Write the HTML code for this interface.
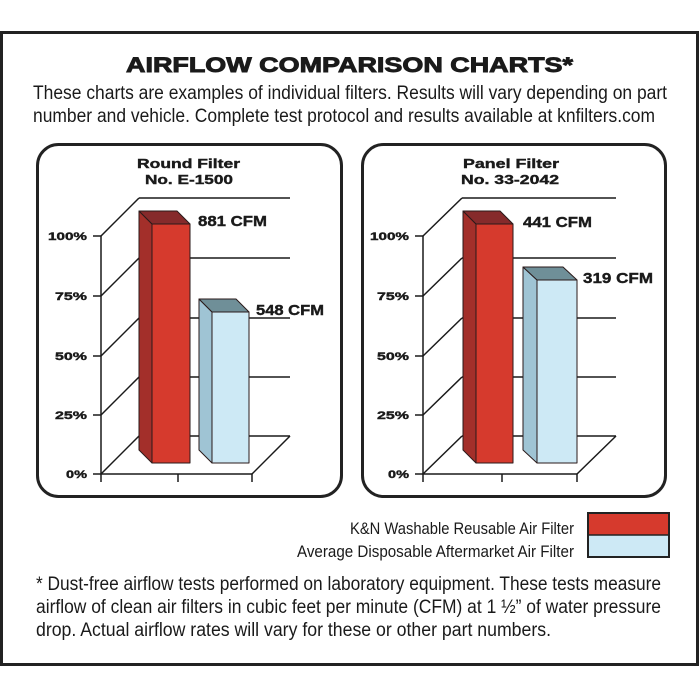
<!DOCTYPE html>
<html>
<head>
<meta charset="utf-8">
<style>
html,body{margin:0;padding:0;background:#fff;}
svg{display:block;}
text{font-family:"Liberation Sans",Arial,sans-serif;fill:#1a1a1a;}
.b{font-weight:bold;}
.h{font-weight:bold;stroke:#1a1a1a;stroke-width:0.9;}
.m{font-weight:bold;stroke:#1a1a1a;stroke-width:0.4;}
</style>
</head>
<body>
<svg width="700" height="700" viewBox="0 0 700 700" xmlns="http://www.w3.org/2000/svg">
<rect x="0" y="0" width="700" height="700" fill="#fff"/>
<!-- outer border -->
<rect x="1.5" y="32.5" width="696" height="632" fill="#fff" stroke="#222" stroke-width="3"/>

<!-- header -->
<text class="h" x="126" y="72" font-size="21" textLength="447" lengthAdjust="spacingAndGlyphs">AIRFLOW COMPARISON CHARTS*</text>
<text x="33" y="99" font-size="19" textLength="634" lengthAdjust="spacingAndGlyphs">These charts are examples of individual filters. Results will vary depending on part</text>
<text x="33" y="122" font-size="19" textLength="622" lengthAdjust="spacingAndGlyphs">number and vehicle. Complete test protocol and results available at knfilters.com</text>

<!-- chart boxes -->
<rect x="37.5" y="144.5" width="304" height="352" rx="21" ry="21" fill="#fff" stroke="#222" stroke-width="3"/>
<rect x="362.5" y="144.5" width="303" height="352" rx="21" ry="21" fill="#fff" stroke="#222" stroke-width="3"/>

<!-- LEFT CHART -->
<text class="m" x="137" y="168" font-size="13" textLength="103" lengthAdjust="spacingAndGlyphs">Round Filter</text>
<text class="m" x="145" y="184" font-size="13" textLength="88" lengthAdjust="spacingAndGlyphs">No. E-1500</text>
<g stroke="#1a1a1a" stroke-width="1.5" fill="none">
  <line x1="139" y1="198" x2="290" y2="198"/>
  <line x1="139" y1="258" x2="290" y2="258"/>
  <line x1="139" y1="318" x2="290" y2="318"/>
  <line x1="139" y1="377" x2="290" y2="377"/>
  <line x1="139" y1="436" x2="290" y2="436"/>
  <line x1="101" y1="236" x2="139" y2="198"/>
  <line x1="101" y1="296" x2="139" y2="258"/>
  <line x1="101" y1="356" x2="139" y2="318"/>
  <line x1="101" y1="415" x2="139" y2="377"/>
  <line x1="101" y1="474" x2="139" y2="436"/>
  <line x1="101" y1="474" x2="252" y2="474"/>
  <line x1="252" y1="474" x2="290" y2="436"/>
  <line x1="101" y1="236" x2="101" y2="482"/>
  <line x1="93" y1="236" x2="101" y2="236"/>
  <line x1="93" y1="296" x2="101" y2="296"/>
  <line x1="93" y1="356" x2="101" y2="356"/>
  <line x1="93" y1="415" x2="101" y2="415"/>
  <line x1="93" y1="474" x2="101" y2="474"/>
  <line x1="178" y1="474" x2="178" y2="482"/>
  <line x1="252" y1="474" x2="252" y2="482"/>
</g>
<g font-size="11">
  <text class="m" x="48" y="240" textLength="39" lengthAdjust="spacingAndGlyphs">100%</text>
  <text class="m" x="55" y="300" textLength="32" lengthAdjust="spacingAndGlyphs">75%</text>
  <text class="m" x="55" y="360" textLength="32" lengthAdjust="spacingAndGlyphs">50%</text>
  <text class="m" x="55" y="419" textLength="32" lengthAdjust="spacingAndGlyphs">25%</text>
  <text class="m" x="66" y="478" textLength="21" lengthAdjust="spacingAndGlyphs">0%</text>
</g>
<g stroke="#2a1a1a" stroke-width="1" stroke-linejoin="round">
  <polygon points="139,211 152,224 152,463 139,450" fill="#a32f2a"/>
  <polygon points="139,211 177,211 190,224 152,224" fill="#862a2b"/>
  <rect x="152" y="224" width="38" height="239" fill="#d63a2d"/>
  <polygon points="199,299 212,312 212,463 199,450" fill="#9fc4d4"/>
  <polygon points="199,299 236,299 249,312 212,312" fill="#6f8f98"/>
  <rect x="212" y="312" width="37" height="151" fill="#cde9f5"/>
</g>
<text class="m" x="198" y="226" font-size="15" textLength="69" lengthAdjust="spacingAndGlyphs">881 CFM</text>
<text class="m" x="256" y="315" font-size="15" textLength="68" lengthAdjust="spacingAndGlyphs">548 CFM</text>

<!-- RIGHT CHART -->
<text class="m" x="463" y="168" font-size="13" textLength="96" lengthAdjust="spacingAndGlyphs">Panel Filter</text>
<text class="m" x="461" y="184" font-size="13" textLength="98" lengthAdjust="spacingAndGlyphs">No. 33-2042</text>
<g stroke="#1a1a1a" stroke-width="1.5" fill="none">
  <line x1="462" y1="198" x2="616" y2="198"/>
  <line x1="462" y1="258" x2="616" y2="258"/>
  <line x1="462" y1="318" x2="616" y2="318"/>
  <line x1="462" y1="377" x2="616" y2="377"/>
  <line x1="462" y1="436" x2="616" y2="436"/>
  <line x1="423" y1="236" x2="462" y2="198"/>
  <line x1="423" y1="296" x2="462" y2="258"/>
  <line x1="423" y1="356" x2="462" y2="318"/>
  <line x1="423" y1="415" x2="462" y2="377"/>
  <line x1="423" y1="474" x2="462" y2="436"/>
  <line x1="423" y1="474" x2="577" y2="474"/>
  <line x1="577" y1="474" x2="616" y2="436"/>
  <line x1="423" y1="236" x2="423" y2="482"/>
  <line x1="415" y1="236" x2="423" y2="236"/>
  <line x1="415" y1="296" x2="423" y2="296"/>
  <line x1="415" y1="356" x2="423" y2="356"/>
  <line x1="415" y1="415" x2="423" y2="415"/>
  <line x1="415" y1="474" x2="423" y2="474"/>
  <line x1="502" y1="474" x2="502" y2="482"/>
  <line x1="577" y1="474" x2="577" y2="482"/>
</g>
<g font-size="11">
  <text class="m" x="370" y="240" textLength="39" lengthAdjust="spacingAndGlyphs">100%</text>
  <text class="m" x="377" y="300" textLength="32" lengthAdjust="spacingAndGlyphs">75%</text>
  <text class="m" x="377" y="360" textLength="32" lengthAdjust="spacingAndGlyphs">50%</text>
  <text class="m" x="377" y="419" textLength="32" lengthAdjust="spacingAndGlyphs">25%</text>
  <text class="m" x="388" y="478" textLength="21" lengthAdjust="spacingAndGlyphs">0%</text>
</g>
<g stroke="#2a1a1a" stroke-width="1" stroke-linejoin="round">
  <polygon points="463,211 476,224 476,463 463,450" fill="#a32f2a"/>
  <polygon points="463,211 500,211 513,224 476,224" fill="#862a2b"/>
  <rect x="476" y="224" width="37" height="239" fill="#d63a2d"/>
  <polygon points="523,267 537,280 537,463 523,450" fill="#9fc4d4"/>
  <polygon points="523,267 563,267 577,280 537,280" fill="#6f8f98"/>
  <rect x="537" y="280" width="40" height="183" fill="#cde9f5"/>
</g>
<text class="m" x="523" y="227" font-size="15" textLength="69" lengthAdjust="spacingAndGlyphs">441 CFM</text>
<text class="m" x="583" y="283" font-size="15" textLength="70" lengthAdjust="spacingAndGlyphs">319 CFM</text>

<!-- legend -->
<text x="350" y="534" font-size="17" textLength="224" lengthAdjust="spacingAndGlyphs">K&amp;N Washable Reusable Air Filter</text>
<text x="297" y="557" font-size="17" textLength="277" lengthAdjust="spacingAndGlyphs">Average Disposable Aftermarket Air Filter</text>
<rect x="588" y="513" width="81" height="22" fill="#d63a2d"/>
<rect x="588" y="535" width="81" height="22" fill="#cde9f5"/>
<rect x="588" y="513" width="81" height="44" fill="none" stroke="#222" stroke-width="2"/>
<line x1="588" y1="535" x2="669" y2="535" stroke="#222" stroke-width="1.5"/>

<!-- footnote -->
<text x="36" y="590" font-size="19" textLength="625" lengthAdjust="spacingAndGlyphs">* Dust-free airflow tests performed on laboratory equipment. These tests measure</text>
<text x="36" y="613" font-size="19" textLength="625" lengthAdjust="spacingAndGlyphs">airflow of clean air filters in cubic feet per minute (CFM) at 1 ½” of water pressure</text>
<text x="36" y="636" font-size="19" textLength="515" lengthAdjust="spacingAndGlyphs">drop. Actual airflow rates will vary for these or other part numbers.</text>
</svg>
</body>
</html>
